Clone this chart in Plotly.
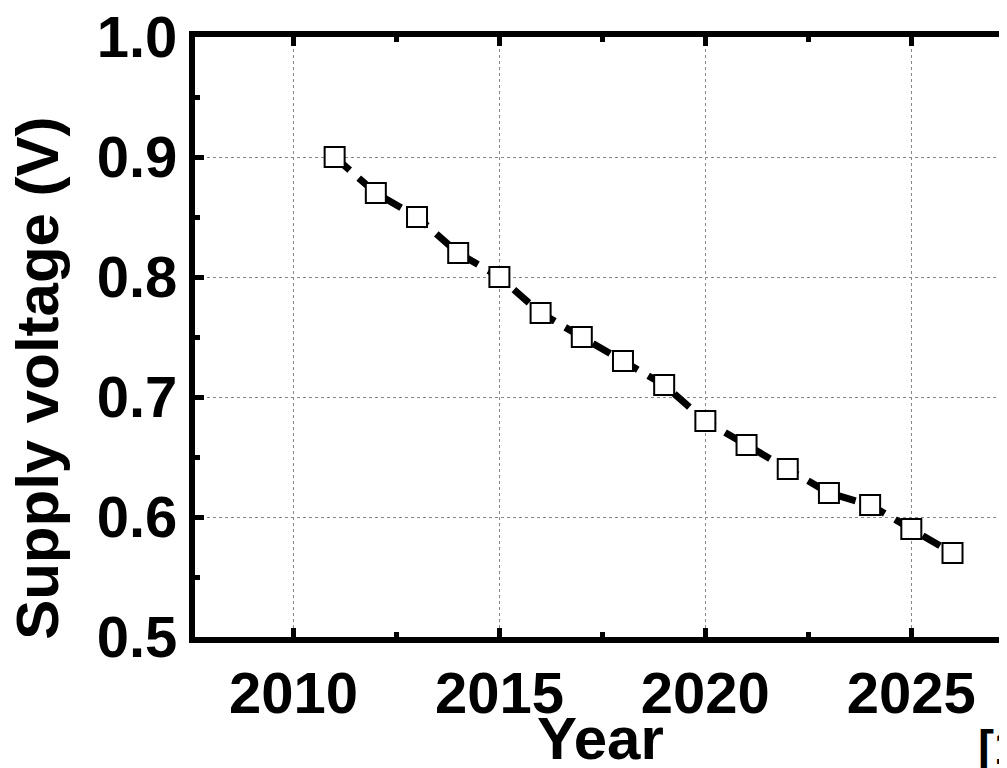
import plotly.graph_objects as go

years = [2011, 2012, 2013, 2014, 2015, 2016, 2017, 2018, 2019, 2020, 2021, 2022, 2023, 2024, 2025, 2026]
voltage = [0.90, 0.87, 0.85, 0.82, 0.80, 0.77, 0.75, 0.73, 0.71, 0.68, 0.66, 0.64, 0.62, 0.61, 0.59, 0.57]
x_ticks = [2010, 2015, 2020, 2025]
y_ticks = [0.5, 0.6, 0.7, 0.8, 0.9, 1.0]
y_tick_text = ["0.5", "0.6", "0.7", "0.8", "0.9", "1.0"]

FONT = "Liberation Sans, Arial, sans-serif"

fig = go.Figure()
fig.add_trace(go.Scatter(
    x=years, y=voltage, mode="lines+markers",
    line=dict(color="black", width=7, dash="20px,12px"),
    marker=dict(symbol="square", size=20, color="white",
                line=dict(color="black", width=2)),
    showlegend=False,
))

axis_common = dict(
    showline=True, linecolor="black", linewidth=6, mirror="ticks",
    ticks="inside", ticklen=9, tickwidth=5, tickcolor="black",
    showgrid=True, gridcolor="#888888", gridwidth=1, griddash="dot",
    zeroline=False, automargin=False, ticklabeloverflow="allow",
    tickfont=dict(family=FONT, size=58, color="black", weight="bold"),
)

fig.update_xaxes(
    range=[2007.61, 2027.42], tickvals=x_ticks, ticktext=[str(v) for v in x_ticks],
    minor=dict(ticks="inside", ticklen=5, tickwidth=5, tickcolor="black", dtick=2.5, tick0=2010, showgrid=False),
    **axis_common,
)
fig.update_yaxes(
    range=[0.5, 1.0], tickvals=y_ticks, ticktext=y_tick_text,
    minor=dict(ticks="inside", ticklen=5, tickwidth=5, tickcolor="black", dtick=0.05, tick0=0.5, showgrid=False),
    **axis_common,
)

fig.add_annotation(
    text="<b>Supply voltage (V)</b>", xref="paper", yref="paper",
    x=-0.1924, y=0.4303, xanchor="center", yanchor="middle", textangle=-90,
    showarrow=False, font=dict(family=FONT, size=60, color="black"),
)
fig.add_annotation(
    text="<b>Year</b>", xref="paper", yref="paper",
    x=0.4975, y=-0.11, xanchor="center", yanchor="top",
    showarrow=False, font=dict(family=FONT, size=60, color="black"),
)
fig.add_annotation(
    text="<b>[1]</b>", xref="paper", yref="paper",
    x=0.957, y=-0.136, xanchor="left", yanchor="top",
    showarrow=False, font=dict(family=FONT, size=48, color="black"),
)

fig.update_layout(
    width=1003, height=760,
    margin=dict(l=187, r=0, t=29, b=131),
    paper_bgcolor="white", plot_bgcolor="white",
)

fig.write_html("out.html")
